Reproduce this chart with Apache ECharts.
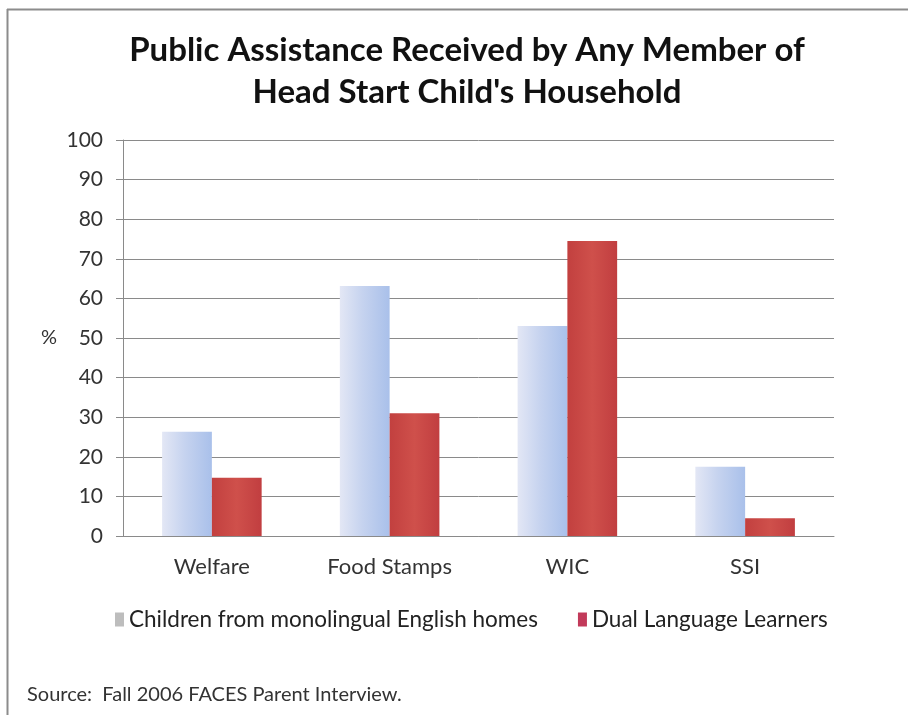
<!DOCTYPE html>
<html>
<head>
<meta charset="utf-8">
<script src="https://cdn.jsdelivr.net/npm/echarts@6/dist/echarts.min.js"></script>
<style>
  html, body { margin: 0; padding: 0; background: #ffffff; }
  #chart { width: 908px; height: 715px; }
</style>
</head>
<body>
<div id="chart"></div>
<script>
// Share of households receiving each type of public assistance (%)
const categories = ['Welfare', 'Food Stamps', 'WIC', 'SSI'];
const seriesNames = ['Children from monolingual English homes', 'Dual Language Learners'];
const monolingual = [26.3, 63.1, 53.0, 17.5];
const dualLanguage = [14.7, 31.0, 74.5, 4.5];
const yTicks = { min: 0, max: 100, step: 10 };

const FONT = 'Lato, "Open Sans", sans-serif';

const chart = echarts.init(document.getElementById('chart'), null, { renderer: 'canvas' });

const lightBar = new echarts.graphic.LinearGradient(0, 0, 1, 0, [
  { offset: 0, color: '#e3e7f5' },
  { offset: 0.45, color: '#c6d3ef' },
  { offset: 1, color: '#a9c0ea' }
]);
const redBar = new echarts.graphic.LinearGradient(0, 0, 1, 0, [
  { offset: 0, color: '#c2403f' },
  { offset: 0.5, color: '#cf504b' },
  { offset: 1, color: '#c13e40' }
]);

chart.setOption({
  backgroundColor: '#ffffff',
  animation: false,
  legend: {
    bottom: 79,
    left: 110,
    itemGap: 40,
    itemWidth: 9,
    itemHeight: 14,
    textStyle: { fontFamily: FONT, fontSize: 22.5, color: '#222222' },
    data: [
      { name: seriesNames[0], icon: 'rect', itemStyle: { color: '#bdbdbd' } },
      { name: seriesNames[1], icon: 'rect', itemStyle: { color: '#c23a5a' } }
    ]
  },
  grid: { left: 123, right: 74, top: 140, bottom: 179, containLabel: false },
  xAxis: {
    type: 'category',
    data: categories,
    axisLine: { show: true, lineStyle: { color: '#8a8a8a', width: 1 } },
    axisTick: { show: false },
    axisLabel: { fontFamily: FONT, fontSize: 22, color: '#333333', margin: 20 }
  },
  yAxis: {
    type: 'value',
    min: yTicks.min,
    max: yTicks.max,
    interval: yTicks.step,
    name: '%',
    nameLocation: 'middle',
    nameRotate: 0,
    nameGap: 66,
    nameTextStyle: { fontFamily: FONT, fontSize: 20, color: '#333333' },
    axisLine: { show: true, lineStyle: { color: '#8a8a8a', width: 1 } },
    axisTick: { show: true, length: 7, lineStyle: { color: '#8a8a8a' } },
    axisLabel: { fontFamily: FONT, fontSize: 21, color: '#333333', margin: 20 },
    splitLine: { show: true, lineStyle: { color: '#8a8a8a', width: 1 } }
  },
  series: [
    {
      name: seriesNames[0],
      type: 'bar',
      data: monolingual,
      barGap: '0%',
      barCategoryGap: '44%',
      itemStyle: { color: lightBar }
    },
    {
      name: seriesNames[1],
      type: 'bar',
      data: dualLanguage,
      barGap: '0%',
      barCategoryGap: '44%',
      itemStyle: { color: redBar }
    }
  ],
  graphic: [
    // frame lines along the top and left edges
    { type: 'line', shape: { x1: 7, y1: 9.5, x2: 908, y2: 9.5 }, style: { stroke: '#8c8c8c', lineWidth: 2 } },
    { type: 'line', shape: { x1: 7.5, y1: 9, x2: 7.5, y2: 715 }, style: { stroke: '#8c8c8c', lineWidth: 2 } },
    // two-line centred heading
    {
      type: 'text',
      x: 467,
      y: 29,
      style: {
        text: 'Public Assistance Received by Any Member of\nHead Start Child\'s Household',
        fontFamily: FONT,
        fontWeight: 'bold',
        fontSize: 33,
        lineHeight: 42,
        fill: '#111111',
        align: 'center',
        verticalAlign: 'top'
      }
    },
    {
      type: 'text',
      left: 27,
      top: 685,
      style: { text: 'Source:  Fall 2006 FACES Parent Interview.', fontFamily: FONT, fontSize: 20, fill: '#333333' }
    }
  ]
});
</script>
</body>
</html>
